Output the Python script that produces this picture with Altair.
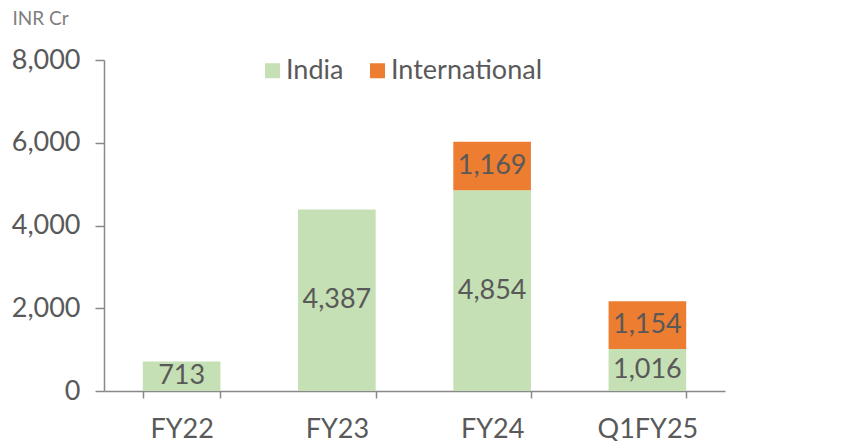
import altair as alt
import pandas as pd

categories = ["FY22", "FY23", "FY24", "Q1FY25"]
india = [713, 4387, 4854, 1016]
international = [None, None, 1169, 1154]
series = ["India", "International"]
colors = ["#c5e0b4", "#ed7d31"]

rows = []
for c, i, x in zip(categories, india, international):
    rows.append({"cat": c, "series": "India", "value": i, "ord": 0})
    if x is not None:
        rows.append({"cat": c, "series": "International", "value": x, "ord": 1})
df = pd.DataFrame(rows)

FONT = "Lato"
TXT = "#595959"
AX = "#898989"
FS = 27

base = alt.Chart(df).transform_stack(
    stack="value", groupby=["cat"], as_=["y0", "y1"], sort=[alt.SortField("ord", order="ascending")]
).transform_calculate(mid="(datum.y0 + datum.y1) / 2")

xenc = alt.X(
    "cat:N",
    sort=categories,
    title=None,
    scale=alt.Scale(paddingInner=0.5, paddingOuter=0.25),
    axis=alt.Axis(
        labelAngle=0, labelFont=FONT, labelFontSize=FS, labelColor=TXT,
        labelPadding=18, tickBand="extent", tickSize=7, tickColor=AX,
        domainColor=AX, tickWidth=1.5, domainWidth=1.5,
    ),
)

bars = base.mark_bar().encode(
    x=xenc,
    y=alt.Y(
        "y0:Q",
        scale=alt.Scale(domain=[0, 8000]),
        title="INR Cr",
        axis=alt.Axis(
            values=[0, 2000, 4000, 6000, 8000], format=",.0f", grid=False,
            labelFont=FONT, labelFontSize=FS, labelColor=TXT, labelPadding=15,
            tickSize=9, tickColor=AX, domainColor=AX, tickWidth=1.5, domainWidth=1.5,
            titleAngle=0, titleX=-92, titleY=-42, titleAlign="left", titleBaseline="middle",
            titleFont=FONT, titleFontSize=19, titleFontWeight="normal", titleColor="#7f7f7f",
        ),
    ),
    y2="y1:Q",
    color=alt.Color(
        "series:N",
        scale=alt.Scale(domain=series, range=colors),
        legend=alt.Legend(
            title=None, orient="none", direction="horizontal", legendX=155, legendY=-3,
            symbolType="square", symbolSize=225, symbolStrokeWidth=0,
            labelFont=FONT, labelFontSize=FS, labelColor=TXT, columnPadding=20,
            labelOffset=0, symbolOpacity=1,
        ),
    ),
)

labels = base.mark_text(font=FONT, fontSize=FS, color=TXT, baseline="middle").encode(
    x=alt.X("cat:N", sort=categories),
    y=alt.Y("mid:Q"),
    text=alt.Text("value:Q", format=",.0f"),
)

chart = (
    alt.layer(bars, labels)
    .properties(
        width=621,
        height=331,
        autosize=alt.AutoSizeParams(type="none"),
        padding={"left": 96, "top": 52, "right": 120, "bottom": 50},
    )
    .configure(background="white")
    .configure_view(strokeOpacity=0, strokeWidth=0)
)

chart.save("out.html", embed_options={"renderer": "svg", "actions": False})
